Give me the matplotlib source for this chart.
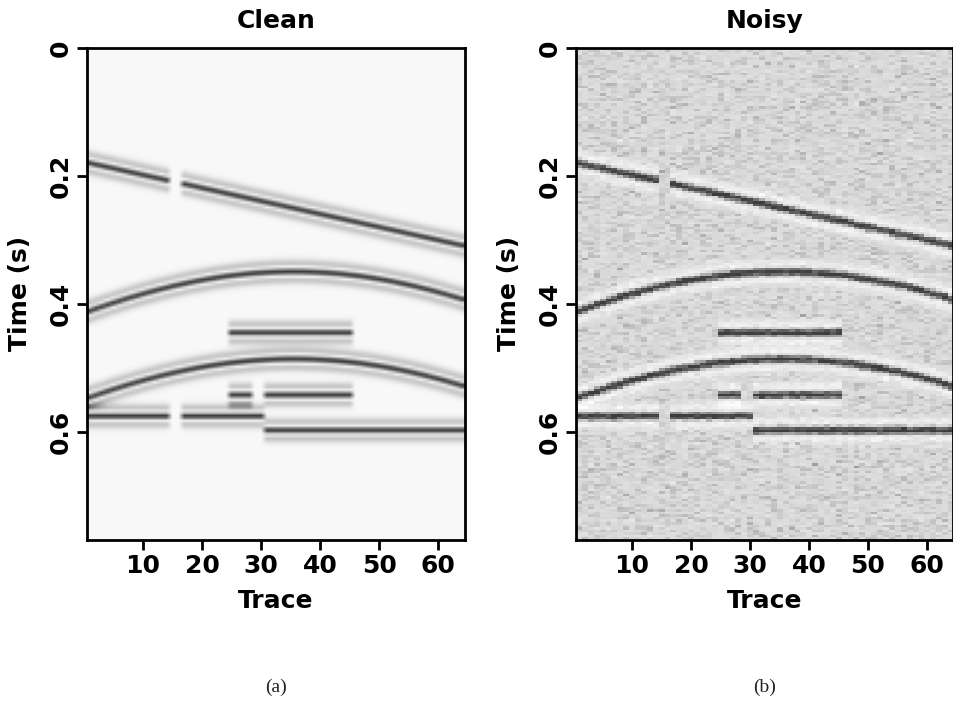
import numpy as np
import matplotlib
matplotlib.use("Agg")
import matplotlib.pyplot as plt
from matplotlib.colors import LinearSegmentedColormap

# section geometry
n_traces = 64
dt = 0.004
t_max = 0.768

# linear event: time at first and last trace, dead traces in it
line_t = [0.181, 0.309]
line_gap = [15, 16]

# hyperbolic events
hyp_apex_trace = [35.5, 35.5]
hyp_apex_t = [0.350, 0.486]
hyp_vel = [160.0, 139.0]  # traces per second

# flat events (time, first trace, last trace)
flat_t = [0.445, 0.542, 0.542, 0.575, 0.575, 0.597]
flat_first = [25, 25, 31, 1, 17, 31]
flat_last = [45, 28, 45, 14, 30, 64]

x_ticks = [10, 20, 30, 40, 50, 60]
y_ticks = [0, 0.2, 0.4, 0.6]
y_ticklabels = ["0", "0.2", "0.4", "0.6"]
titles = ["Clean", "Noisy"]
captions = ["(a)", "(b)"]

freq = 30.0


def ricker(tau):
    a = (np.pi * freq * tau) ** 2
    return (1 - 2 * a) * np.exp(-a)


def build_section():
    t = np.arange(0, t_max, dt) + dt / 2
    traces = np.arange(1, n_traces + 1)
    d = np.zeros((len(t), n_traces))
    for j, x in enumerate(traces):
        if x not in line_gap:
            te = line_t[0] + (line_t[1] - line_t[0]) * (x - 1) / (n_traces - 1)
            d[:, j] += ricker(t - te)
        for x0, t0, v in zip(hyp_apex_trace, hyp_apex_t, hyp_vel):
            te = np.sqrt(t0 ** 2 + ((x - x0) / v) ** 2)
            d[:, j] += ricker(t - te)
        for tf, a, b in zip(flat_t, flat_first, flat_last):
            if a <= x <= b:
                d[:, j] += ricker(t - tf)
    return d


clean = build_section()

# background noise texture for the noisy panel
rng = np.random.default_rng(7)
noise = rng.normal(0, 0.1, clean.shape)
noisy = clean + noise

cmap_clean = LinearSegmentedColormap.from_list(
    "clean", [(0.0, (0.975, 0.975, 0.975)), (0.12, (0.93, 0.93, 0.93)),
              (0.45, (0.77, 0.77, 0.77)), (1.0, (0.22, 0.22, 0.22))])
cmap_noisy = LinearSegmentedColormap.from_list(
    "noisy", [(0.0, (1, 1, 1)), (0.444, (0.85, 0.85, 0.85)), (1.0, (0.24, 0.24, 0.24))])

fig = plt.figure(figsize=(9.54, 7.04), dpi=100)
ax1 = fig.add_axes([0.0912, 0.233, 0.396, 0.699])
ax2 = fig.add_axes([0.6038, 0.233, 0.3955, 0.699])

extent = [0.5, n_traces + 0.5, t_max, 0]
ax1.imshow(np.abs(clean), cmap=cmap_clean, vmin=0, vmax=1.0, aspect="auto",
           extent=extent, interpolation="bilinear")
ax2.imshow(noisy, cmap=cmap_noisy, vmin=-0.8, vmax=1.0, aspect="auto",
           extent=extent, interpolation="nearest")

for ax, title, cap in zip([ax1, ax2], titles, captions):
    ax.set_xlim(0.5, n_traces + 0.5)
    ax.set_ylim(t_max, 0)
    ax.set_title(title, fontsize=18, weight="bold", pad=14)
    ax.set_xticks(x_ticks)
    ax.set_yticks(y_ticks)
    ax.set_yticklabels(y_ticklabels)
    ax.tick_params(length=7, width=2, labelsize=18, pad=3)
    for lab in ax.get_xticklabels() + ax.get_yticklabels():
        lab.set_fontweight("bold")
    plt.setp(ax.get_yticklabels(), rotation=90, va="center")
    ax.set_xlabel("Trace", fontsize=18, weight="bold", labelpad=8)
    ax.set_ylabel("Time (s)", fontsize=18, weight="bold", labelpad=12)
    for s in ax.spines.values():
        s.set_linewidth(2)
    ax.text(0.5, -0.3, cap, transform=ax.transAxes, ha="center", va="center",
            fontsize=14, family="Liberation Serif", color="#222222")

fig.savefig("out.png", dpi=100)
